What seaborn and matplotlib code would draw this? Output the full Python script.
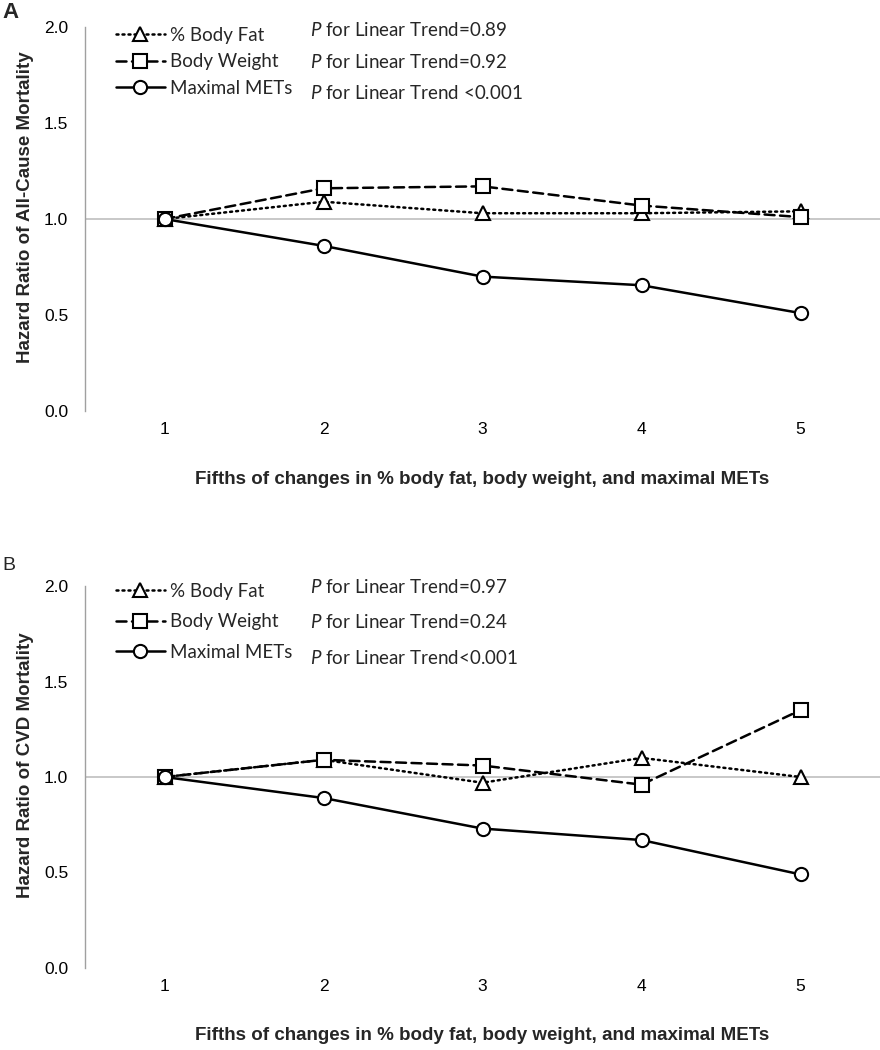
import pandas as pd
import matplotlib
matplotlib.use("Agg")
import matplotlib.pyplot as plt
import seaborn as sns

# --------------------------
# Data
# --------------------------
fifths = [1, 2, 3, 4, 5]
series_names = ["% Body Fat", "Body Weight", "Maximal METs"]

# Panel A: all-cause mortality
a_body_fat = [1.00, 1.09, 1.03, 1.03, 1.04]
a_body_weight = [1.00, 1.16, 1.17, 1.07, 1.01]
a_max_mets = [1.00, 0.86, 0.70, 0.655, 0.51]
a_p_labels = ["for Linear Trend=0.89", "for Linear Trend=0.92", "for Linear Trend <0.001"]

# Panel B: CVD mortality
b_body_fat = [1.00, 1.09, 0.97, 1.10, 1.00]
b_body_weight = [1.00, 1.09, 1.06, 0.96, 1.35]
b_max_mets = [1.00, 0.89, 0.73, 0.67, 0.49]
b_p_labels = ["for Linear Trend=0.97", "for Linear Trend=0.24", "for Linear Trend<0.001"]

y_ticks = [0.0, 0.5, 1.0, 1.5, 2.0]
x_title = "Fifths of changes in % body fat, body weight, and maximal METs"

# --------------------------
# Style
# --------------------------
sns.set_style("white")
plt.rcParams["font.family"] = ["Liberation Sans", "DejaVu Sans"]
plt.rcParams["mathtext.fontset"] = "custom"
plt.rcParams["mathtext.it"] = "Lato:italic"
plt.rcParams["mathtext.rm"] = "Lato"

W, H = 880, 1050
fig = plt.figure(figsize=(W / 100, H / 100), dpi=100)

markers = {"% Body Fat": "^", "Body Weight": "s", "Maximal METs": "o"}
dashes = {"% Body Fat": (0.8, 1.6), "Body Weight": (4, 2.2), "Maximal METs": ""}


def make_frame(fat, weight, mets):
    rows = []
    for name, vals in zip(series_names, [fat, weight, mets]):
        for f, v in zip(fifths, vals):
            rows.append({"fifth": f, "series": name, "hr": v})
    return pd.DataFrame(rows)


def draw_panel(top_px, bottom_px, df, ylabel, p_labels, legend_rows):
    ax = fig.add_axes([85 / W, 1 - bottom_px / H, (W - 85) / W, (bottom_px - top_px) / H])

    sns.lineplot(
        data=df, x="fifth", y="hr", style="series",
        markers=markers, dashes=dashes, color="black",
        linewidth=1.8, markersize=9.5, markeredgewidth=1.5,
        markerfacecolor="white", markeredgecolor="black",
        dash_capstyle="round", legend=False, ax=ax, zorder=3,
    )
    handles = list(ax.lines[:3])

    # reference line where the category axis crosses
    ax.axhline(1.0, color="#c4c4c4", lw=1.3, zorder=1)

    ax.set_xlim(0.5, 5.5)
    ax.set_ylim(0, 2)
    ax.set_xticks(fifths)
    ax.set_yticks(y_ticks)
    ax.set_yticklabels([f"{t:.1f}" for t in y_ticks])
    ax.tick_params(axis="x", length=0, pad=8, labelsize=12.5, colors="black")
    ax.tick_params(axis="y", length=4, width=1, direction="out", pad=8,
                   labelsize=12.5, color="#a0a0a0", labelcolor="black")

    for side in ["top", "right", "bottom"]:
        ax.spines[side].set_visible(False)
    ax.spines["left"].set_color("#a0a0a0")
    ax.spines["left"].set_linewidth(1)

    ax.set_xlabel(x_title, fontsize=13.5, fontweight="bold")
    ax.set_ylabel(ylabel, fontsize=13.5, fontweight="bold")
    ax.xaxis.set_label_coords(0.5, -0.155)
    ax.yaxis.set_label_coords(-0.064, 0.53)

    # legend (Excel style) + trend p values
    spacing = (legend_rows[2] - legend_rows[0]) / 2
    fig.legend(
        handles, series_names, loc="center left",
        bbox_to_anchor=(116 / W, 1 - legend_rows[1] / H),
        frameon=False, borderpad=0, handlelength=2.6, handletextpad=0.3,
        labelspacing=(spacing - 22) / 18.7, borderaxespad=0,
        prop={"family": "Lato", "size": 13.5},
    )
    for y, lab in zip(legend_rows, p_labels):
        fig.text(310 / W, 1 - y / H, "$P$ " + lab, fontsize=13.5,
                 family="Lato", va="center", ha="left")
    return ax


df_a = make_frame(a_body_fat, a_body_weight, a_max_mets)
df_b = make_frame(b_body_fat, b_body_weight, b_max_mets)

draw_panel(27, 411, df_a, "Hazard Ratio of All-Cause Mortality", a_p_labels, [30, 62, 93])
draw_panel(586, 968, df_b, "Hazard Ratio of CVD Mortality", b_p_labels, [587, 622, 658])

fig.text(2 / W, 1 - 13 / H, "A", fontsize=16, fontweight="bold", va="center", ha="left")
fig.text(2 / W, 1 - 566 / H, "B", fontsize=14, va="center", ha="left")

fig.savefig("out.png", dpi=100)
